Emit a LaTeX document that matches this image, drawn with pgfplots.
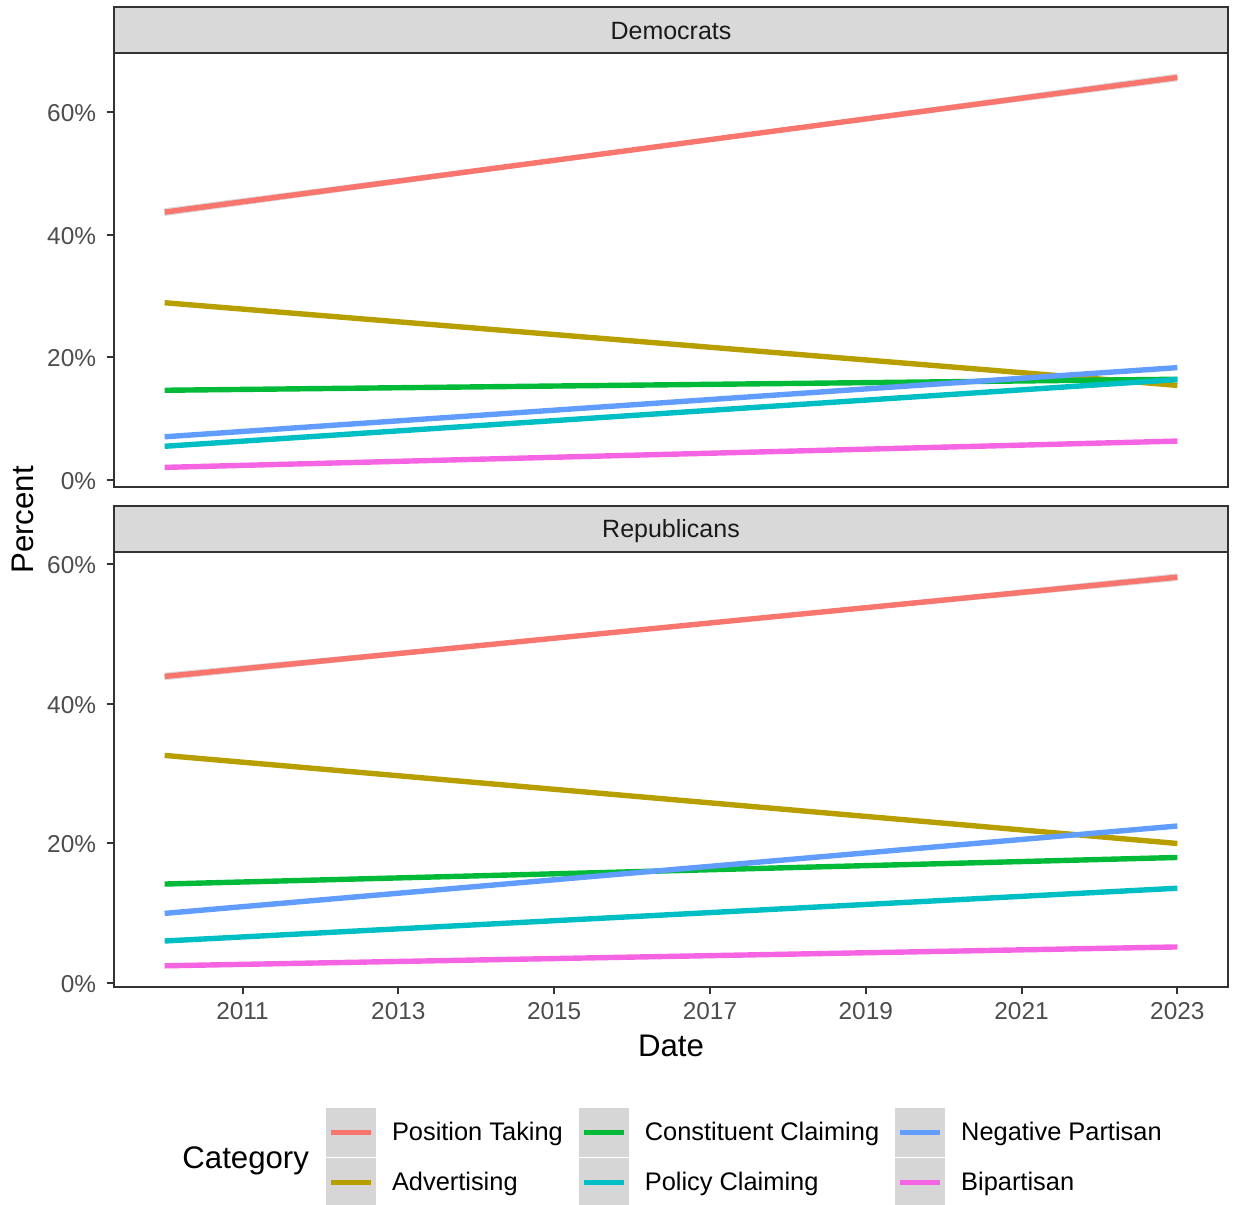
\documentclass[border=0pt]{standalone}
\usepackage{pgfplots}
\pgfplotsset{compat=1.18}
\usepackage{fontspec}
\setmainfont{Liberation Sans}
\definecolor{cPT}{HTML}{F8766D}
\definecolor{cAD}{HTML}{B79F00}
\definecolor{cCC}{HTML}{00BA38}
\definecolor{cPC}{HTML}{00BFC4}
\definecolor{cNP}{HTML}{619CFF}
\definecolor{cBP}{HTML}{F564E3}
\definecolor{g20}{HTML}{333333}
\definecolor{g30}{HTML}{4D4D4D}
\definecolor{g10}{HTML}{1A1A1A}
\definecolor{g85}{HTML}{D9D9D9}
\definecolor{legbg}{HTML}{D6D6D6}
\newcommand\tickfont{\fontsize{12.2}{14}\selectfont}
\newcommand\stripfont{\fontsize{12.5}{14}\selectfont}
\newcommand\legfont{\fontsize{12.7}{15}\selectfont}
\newcommand\titlefont{\fontsize{15.6}{18}\selectfont}
\pgfplotsset{
  facet/.style={
    scale only axis, width=557pt,
    xmin=2009.35, xmax=2023.65,
    axis line style={draw=g20, line width=1pt},
    tick style={draw=g20, line width=1pt},
    tick align=outside,
    major tick length=3.7pt,
    xtick pos=left, ytick pos=left,
    ytick={0,20,40,60}, yticklabels={0\%,20\%,40\%,60\%},
    yticklabel style={font=\tickfont, text=g30, inner sep=0pt, xshift=-5.1pt, yshift=-0.5pt},
    xticklabel style={font=\tickfont, text=g30, inner sep=0pt, yshift=-3.6pt},
    every axis plot/.append style={line width=2.7pt},
  }
}
\begin{document}
\begin{tikzpicture}[x=1pt,y=1pt]
\useasboundingbox (0,0) rectangle (616.5,602.5);
% ---------- Democrats ----------
\begin{axis}[facet, at={(57pt,359pt)}, anchor=south west, height=217pt,
  ymin=-1.2, ymax=69.7, xtick=\empty]
\addplot[fill=gray!60, fill opacity=0.45, draw=none, line width=0pt] coordinates {(2010,44.35) (2016.5,55.0) (2023,66.35) (2023,65.05) (2016.5,54.4) (2010,43.05)} -- cycle;
\addplot[cPT] coordinates {(2010,43.7) (2023,65.7)};
\addplot[cAD] coordinates {(2010,28.9) (2023,15.4)};
\addplot[cCC] coordinates {(2010,14.6) (2023,16.4)};
\addplot[cPC] coordinates {(2010,5.45) (2023,16.35)};
\addplot[cNP] coordinates {(2010,7.0) (2023,18.3)};
\addplot[cBP] coordinates {(2010,2.0) (2023,6.3)};
\end{axis}
% ---------- Republicans ----------
\begin{axis}[facet, at={(57pt,109pt)}, anchor=south west, height=217.5pt,
  ymin=-0.53, ymax=61.7,
  xtick={2011,2013,2015,2017,2019,2021,2023},
  xticklabels={2011,2013,2015,2017,2019,2021,2023},
  legend columns=3,
  legend cell align=left,
  legend image code/.code={
    \path[fill=legbg, draw=none] (0pt,-12.3pt) rectangle (25pt,12.3pt);
    \draw[#1, line width=2.5pt] (2.5pt,0pt) -- (22.5pt,0pt);
  },
  legend style={at={(axis description cs:0.1903,-0.2782)}, anchor=north west,
    draw=none, fill=none, inner sep=0pt, outer sep=0pt, row sep=0.4pt,
    font=\legfont,
    nodes={inner sep=0pt},
    /tikz/every odd column/.append style={column sep=8pt},
    /tikz/every even column/.append style={column sep=8pt}},
]
\addplot[forget plot, fill=gray!60, fill opacity=0.45, draw=none, line width=0pt] coordinates {(2010,44.45) (2016.5,51.2) (2023,58.65) (2023,57.55) (2016.5,50.8) (2010,43.35)} -- cycle;
\addplot[cPT, forget plot] coordinates {(2010,43.9) (2023,58.1)};
\addplot[cAD, forget plot] coordinates {(2010,32.6) (2023,20.0)};
\addplot[cCC, forget plot] coordinates {(2010,14.2) (2023,18.0)};
\addplot[cPC, forget plot] coordinates {(2010,6.05) (2023,13.6)};
\addplot[cNP, forget plot] coordinates {(2010,10.0) (2023,22.5)};
\addplot[cBP, forget plot] coordinates {(2010,2.5) (2023,5.2)};
\addlegendimage{draw=cPT}\addlegendentry{Position Taking}
\addlegendimage{draw=cCC}\addlegendentry{Constituent Claiming}
\addlegendimage{draw=cNP}\addlegendentry{Negative Partisan}
\addlegendimage{draw=cAD}\addlegendentry{Advertising}
\addlegendimage{draw=cPC}\addlegendentry{Policy Claiming}
\addlegendimage{draw=cBP}\addlegendentry{Bipartisan}
\end{axis}
% strips
\draw[fill=g85, draw=g20, line width=1pt] (57,576) rectangle (614,599);
\node[font=\stripfont, text=g10] at (335.5,587) {Democrats};
\draw[fill=g85, draw=g20, line width=1pt] (57,326.5) rectangle (614,349.5);
\node[font=\stripfont, text=g10] at (335.5,337) {Republicans};
% axis titles
\node[font=\titlefont, anchor=base, inner sep=0pt] at (335.5,74) {Date};
\node[font=\titlefont, anchor=base, rotate=90, inner sep=0pt] at (16.8,342.5) {Percent};
\node[font=\titlefont, anchor=west, inner sep=0pt] at (91,22) {Category};
\end{tikzpicture}
\end{document}
